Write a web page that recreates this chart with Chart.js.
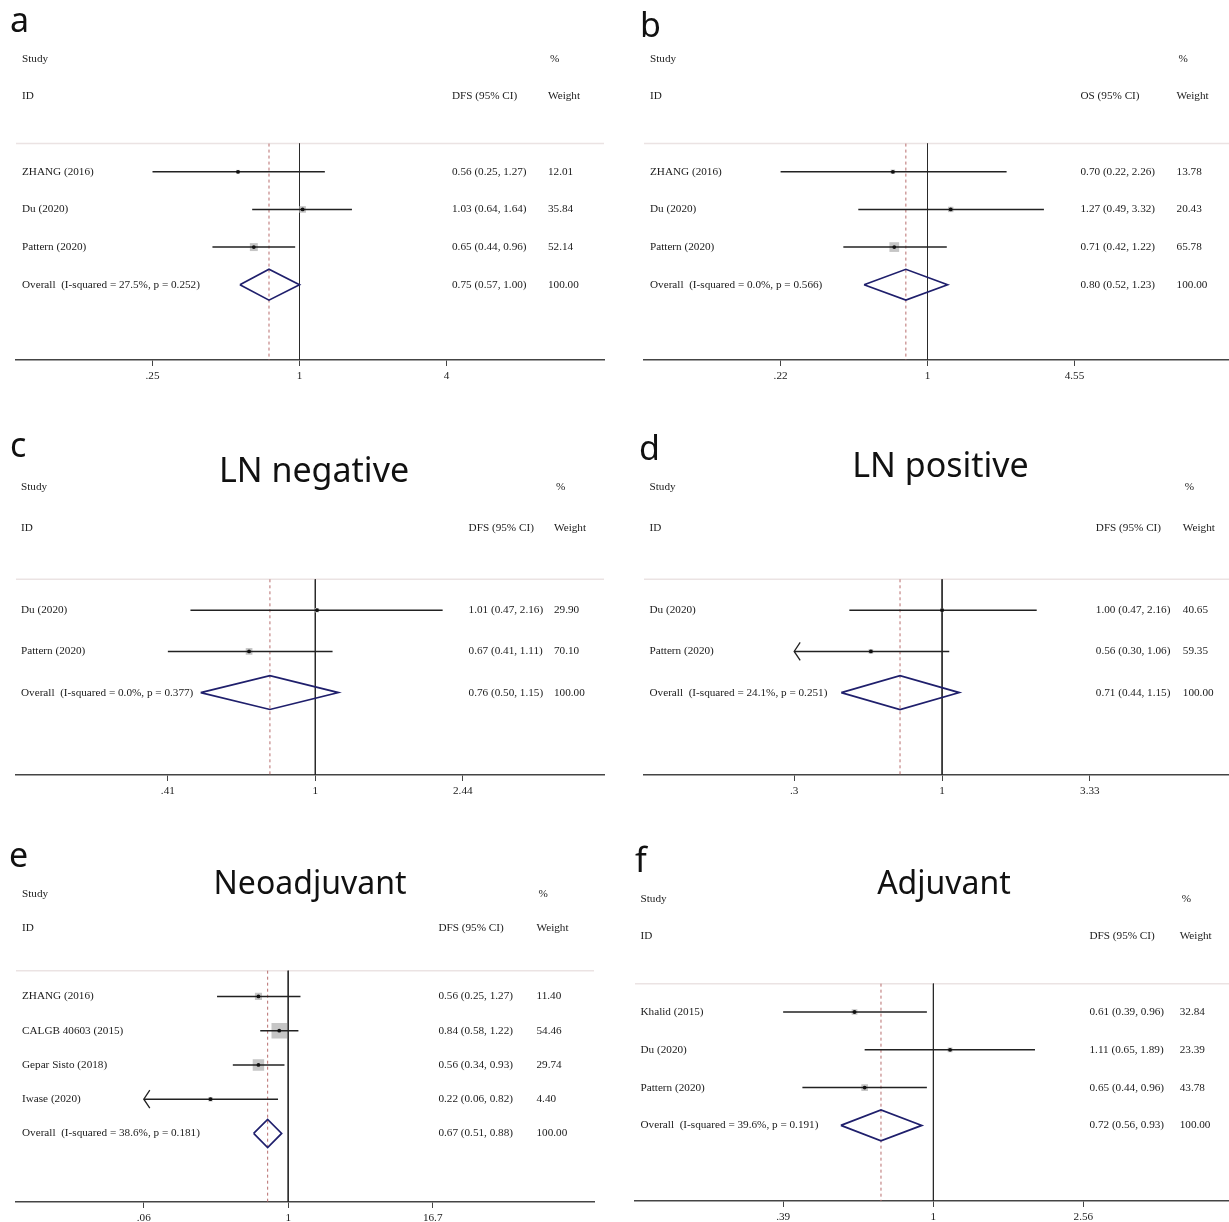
<!DOCTYPE html>
<html>
<head>
<meta charset="utf-8">
<script src="https://cdn.jsdelivr.net/npm/chart.js@4.4.1/dist/chart.umd.min.js"></script>
<style>
  html, body { margin: 0; padding: 0; background: #fff; }
  #fig { position: relative; width: 1229px; height: 1222px; overflow: hidden; background: #fff; }
  #fig canvas { position: absolute; }
</style>
</head>
<body>
<div id="fig"></div>
<script>
// ---- a: DFS, all trials ----
const studiesA = ['ZHANG (2016)', 'Du (2020)', 'Pattern (2020)'];
const estA = [0.56, 1.03, 0.65];
const lowA = [0.25, 0.64, 0.44];
const highA = [1.27, 1.64, 0.96];
const weightA = [12.01, 35.84, 52.14];
const arrowA = [false, false, false];
const overallA = [0.75, 0.57, 1.00];
const hetA = [27.5, 0.252];
const ticksA = [0.25, 1, 4];
const tickLabelsA = ['.25', '1', '4'];

// ---- b: OS, all trials ----
const studiesB = ['ZHANG (2016)', 'Du (2020)', 'Pattern (2020)'];
const estB = [0.70, 1.27, 0.71];
const lowB = [0.22, 0.49, 0.42];
const highB = [2.26, 3.32, 1.22];
const weightB = [13.78, 20.43, 65.78];
const arrowB = [false, false, false];
const overallB = [0.80, 0.52, 1.23];
const hetB = [0.0, 0.566];
const ticksB = [0.22, 1, 4.55];
const tickLabelsB = ['.22', '1', '4.55'];

// ---- c: DFS, LN negative ----
const studiesC = ['Du (2020)', 'Pattern (2020)'];
const estC = [1.01, 0.67];
const lowC = [0.47, 0.41];
const highC = [2.16, 1.11];
const weightC = [29.90, 70.10];
const arrowC = [false, false];
const overallC = [0.76, 0.50, 1.15];
const hetC = [0.0, 0.377];
const ticksC = [0.41, 1, 2.44];
const tickLabelsC = ['.41', '1', '2.44'];

// ---- d: DFS, LN positive ----
const studiesD = ['Du (2020)', 'Pattern (2020)'];
const estD = [1.00, 0.56];
const lowD = [0.47, 0.30];
const highD = [2.16, 1.06];
const weightD = [40.65, 59.35];
const arrowD = [false, true];
const overallD = [0.71, 0.44, 1.15];
const hetD = [24.1, 0.251];
const ticksD = [0.3, 1, 3.33];
const tickLabelsD = ['.3', '1', '3.33'];

// ---- e: DFS, neoadjuvant ----
const studiesE = ['ZHANG (2016)', 'CALGB 40603 (2015)', 'Gepar Sisto (2018)', 'Iwase (2020)'];
const estE = [0.56, 0.84, 0.56, 0.22];
const lowE = [0.25, 0.58, 0.34, 0.06];
const highE = [1.27, 1.22, 0.93, 0.82];
const weightE = [11.40, 54.46, 29.74, 4.40];
const arrowE = [false, false, false, true];
const overallE = [0.67, 0.51, 0.88];
const hetE = [38.6, 0.181];
const ticksE = [0.06, 1, 16.7];
const tickLabelsE = ['.06', '1', '16.7'];

// ---- f: DFS, adjuvant ----
const studiesF = ['Khalid (2015)', 'Du (2020)', 'Pattern (2020)'];
const estF = [0.61, 1.11, 0.65];
const lowF = [0.39, 0.65, 0.44];
const highF = [0.96, 1.89, 0.96];
const weightF = [32.84, 23.39, 43.78];
const arrowF = [false, false, false];
const overallF = [0.72, 0.56, 0.93];
const hetF = [39.6, 0.191];
const ticksF = [0.39, 1, 2.56];
const tickLabelsF = ['.39', '1', '2.56'];

const SERIF = '"Liberation Serif", "Times New Roman", serif';
const SANS = '"Noto Sans", "Open Sans", sans-serif';
const TEXT = '#1a1a1a';
const AXIS_H = 30;   // height reserved below the plot for tick marks and labels

const panels = [
  { letter: 'a', title: '', outcome: 'DFS (95% CI)',
    studies: studiesA, est: estA, low: lowA, high: highA, weight: weightA, arrow: arrowA,
    overall: overallA, het: hetA, ticks: ticksA, tickLabels: tickLabelsA,
    lay: { x: 0, y: 0, w: 614, L: 16, R: 604, one: 299.5, span: 147, axisY: 360, row: 37.64,
           cols: [22, 452, 548], letterPos: [10, 32], titlePos: null, boxK: 1.1 } },
  { letter: 'b', title: '', outcome: 'OS (95% CI)',
    studies: studiesB, est: estB, low: lowB, high: highB, weight: weightB, arrow: arrowB,
    overall: overallB, het: hetB, ticks: ticksB, tickLabels: tickLabelsB,
    lay: { x: 615, y: 0, w: 614, L: 29, R: 614, one: 312.5, span: 147, axisY: 360, row: 37.64,
           cols: [35, 465.5, 561.6], letterPos: [25, 37], titlePos: null, boxK: 1.2 } },
  { letter: 'c', title: 'LN negative', outcome: 'DFS (95% CI)',
    studies: studiesC, est: estC, low: lowC, high: highC, weight: weightC, arrow: arrowC,
    overall: overallC, het: hetC, ticks: ticksC, tickLabels: tickLabelsC,
    lay: { x: 0, y: 410, w: 614, L: 16, R: 604, one: 315.3, span: 147.5, axisY: 775, row: 41.2,
           cols: [21, 468.6, 554], letterPos: [10, 47], titlePos: [314, 72, 34], boxK: 0.8 } },
  { letter: 'd', title: 'LN positive', outcome: 'DFS (95% CI)',
    studies: studiesD, est: estD, low: lowD, high: highD, weight: weightD, arrow: arrowD,
    overall: overallD, het: hetD, ticks: ticksD, tickLabels: tickLabelsD,
    lay: { x: 615, y: 410, w: 614, L: 29, R: 614, one: 327.1, span: 147.8, axisY: 775, row: 41.2,
           cols: [34.5, 480.8, 567.8], letterPos: [24, 50], titlePos: [325.5, 67, 34], boxK: 0.6 } },
  { letter: 'e', title: 'Neoadjuvant', outcome: 'DFS (95% CI)',
    studies: studiesE, est: estE, low: lowE, high: highE, weight: weightE, arrow: arrowE,
    overall: overallE, het: hetE, ticks: ticksE, tickLabels: tickLabelsE,
    lay: { x: 0, y: 830, w: 614, L: 16, R: 594, one: 288.2, span: 144.5, axisY: 1202, row: 34.27,
           cols: [22, 438.4, 536.5], letterPos: [9, 37], titlePos: [310, 64, 32], boxK: 2.1 } },
  { letter: 'f', title: 'Adjuvant', outcome: 'DFS (95% CI)',
    studies: studiesF, est: estF, low: lowF, high: highF, weight: weightF, arrow: arrowF,
    overall: overallF, het: hetF, ticks: ticksF, tickLabels: tickLabelsF,
    lay: { x: 615, y: 830, w: 614, L: 20, R: 614, one: 318.4, span: 150, axisY: 1201, row: 37.8,
           cols: [25.5, 474.5, 564.7], letterPos: [20, 42], titlePos: [329, 64, 32], boxK: 1.0 } }
];

// Text, header rule and clipped-interval arrows for one forest panel
function forestDecor(p) {
  const n = p.studies.length;
  const fmt = v => v.toFixed(2);
  return {
    id: 'forestDecor',
    beforeDatasetsDraw(chart) {
      const ctx = chart.ctx, ys = chart.scales.y, a = chart.chartArea;
      const yr = ys.getPixelForValue(-0.75);
      ctx.save();
      ctx.strokeStyle = '#ebe3e3';
      ctx.lineWidth = 1.5;
      ctx.beginPath();
      ctx.moveTo(a.left, yr);
      ctx.lineTo(a.right, yr);
      ctx.stroke();
      ctx.restore();
    },
    afterDraw(chart) {
      const ctx = chart.ctx, xs = chart.scales.x, ys = chart.scales.y;
      const [cId, cCI, cW] = p.lay.cols;
      ctx.save();
      // panel letter and title
      ctx.fillStyle = '#111';
      ctx.textBaseline = 'alphabetic';
      ctx.textAlign = 'left';
      ctx.font = '34px ' + SANS;
      ctx.fillText(p.letter, p.lay.letterPos[0], p.lay.letterPos[1]);
      if (p.title && p.lay.titlePos) {
        const [tx, ty, ts] = p.lay.titlePos;
        ctx.font = ts + 'px ' + SANS;
        ctx.textAlign = 'center';
        ctx.fillText(p.title, tx, ty);
      }
      // column headers and rows
      ctx.fillStyle = TEXT;
      ctx.textAlign = 'left';
      ctx.textBaseline = 'middle';
      ctx.font = '11.2px ' + SERIF;
      const yS = ys.getPixelForValue(-3), yI = ys.getPixelForValue(-2);
      ctx.fillText('Study', cId, yS);
      ctx.fillText('%', cW + 2, yS);
      ctx.fillText('ID', cId, yI);
      ctx.fillText(p.outcome, cCI, yI);
      ctx.fillText('Weight', cW, yI);
      p.studies.forEach((s, i) => {
        const y = ys.getPixelForValue(i);
        ctx.fillText(s, cId, y);
        ctx.fillText(fmt(p.est[i]) + ' (' + fmt(p.low[i]) + ', ' + fmt(p.high[i]) + ')', cCI, y);
        ctx.fillText(fmt(p.weight[i]), cW, y);
      });
      const yo = ys.getPixelForValue(n);
      ctx.fillText('Overall  (I-squared = ' + p.het[0].toFixed(1) + '%, p = ' + p.het[1].toFixed(3) + ')', cId, yo);
      ctx.fillText(fmt(p.overall[0]) + ' (' + fmt(p.overall[1]) + ', ' + fmt(p.overall[2]) + ')', cCI, yo);
      ctx.fillText('100.00', cW, yo);
      // arrows where an interval runs past the axis range
      ctx.strokeStyle = '#222';
      ctx.lineWidth = 1.3;
      p.arrow.forEach((on, i) => {
        if (!on) return;
        const xp = xs.getPixelForValue(p.ticks[0]);
        const y = ys.getPixelForValue(i);
        ctx.beginPath();
        ctx.moveTo(xp + 6, y - 9);
        ctx.lineTo(xp, y);
        ctx.lineTo(xp + 6, y + 9);
        ctx.stroke();
      });
      ctx.restore();
    }
  };
}

function drawForest(p) {
  const lay = p.lay;
  const n = p.studies.length;
  const axisLocal = lay.axisY - lay.y;
  const height = axisLocal + AXIS_H;
  const areaTop = axisLocal - (n + 5.5) * lay.row;
  const hi = p.ticks[2];
  const xMin = Math.pow(hi, (lay.L - lay.one) / lay.span);
  const xMax = Math.pow(hi, (lay.R - lay.one) / lay.span);

  const canvas = document.createElement('canvas');
  canvas.width = lay.w;
  canvas.height = height;
  canvas.style.left = lay.x + 'px';
  canvas.style.top = lay.y + 'px';
  canvas.style.width = lay.w + 'px';
  canvas.style.height = height + 'px';
  document.getElementById('fig').appendChild(canvas);

  const rows = p.studies.map((_, i) => i);
  const ov = p.overall;
  const dh = 0.41;   // half height of the pooled diamond, in rows

  const datasets = [
    { type: 'scatter', data: rows.map(i => ({ x: p.est[i], y: i })),
      pointStyle: 'circle', pointRadius: 1.9, backgroundColor: '#111', borderWidth: 0, order: 0 },
    ...rows.map(i => ({
      type: 'line', data: [{ x: Math.max(p.low[i], p.ticks[0]), y: i }, { x: p.high[i], y: i }],
      borderColor: '#222', borderWidth: 1.5, pointRadius: 0, fill: false, order: 1 })),
    { type: 'scatter', data: rows.map(i => ({ x: p.est[i], y: i })),
      pointStyle: 'rect', pointRadius: rows.map(i => lay.boxK * Math.sqrt(p.weight[i]) / Math.SQRT2),
      backgroundColor: '#c6c6c6', borderWidth: 0, order: 2 },
    { type: 'line', data: [
        { x: ov[1], y: n }, { x: ov[0], y: n - dh }, { x: ov[2], y: n },
        { x: ov[0], y: n + dh }, { x: ov[1], y: n }],
      borderColor: '#1f1f6c', borderWidth: 1.7, pointRadius: 0, fill: false, order: 3 },
    { type: 'line', data: [{ x: 1, y: -0.75 }, { x: 1, y: n + 2 }],
      borderColor: '#2a2a2a', borderWidth: 1, pointRadius: 0, fill: false, order: 4 },
    { type: 'line', data: [{ x: ov[0], y: -0.75 }, { x: ov[0], y: n + 2 }],
      borderColor: '#b86e6e', borderWidth: 1, borderDash: [3, 3], pointRadius: 0, fill: false, order: 5 }
  ];

  new Chart(canvas, {
    type: 'scatter',
    data: { datasets },
    options: {
      responsive: false,
      animation: false,
      events: [],
      devicePixelRatio: 1,
      layout: { autoPadding: false, padding: { left: lay.L, right: lay.w - lay.R, top: areaTop, bottom: 0 } },
      plugins: { legend: { display: false }, tooltip: { enabled: false }, title: { display: false } },
      scales: {
        x: {
          type: 'logarithmic', position: 'bottom', min: xMin, max: xMax,
          afterBuildTicks: s => { s.ticks = p.ticks.map(v => ({ value: v })); },
          afterFit: s => { s.height = AXIS_H; },
          ticks: {
            autoSkip: false, maxRotation: 0, padding: 3, color: TEXT,
            font: { family: SERIF, size: 11.2 },
            callback: (v, i) => p.tickLabels[i]
          },
          grid: { display: true, drawOnChartArea: false, drawTicks: true, tickLength: 6, color: '#444', lineWidth: 1 },
          border: { display: true, color: '#444', width: 1.5 }
        },
        y: { type: 'linear', reverse: true, min: -3.5, max: n + 2, display: false }
      }
    },
    plugins: [forestDecor(p)]
  });
}

panels.forEach(drawForest);
</script>
</body>
</html>
